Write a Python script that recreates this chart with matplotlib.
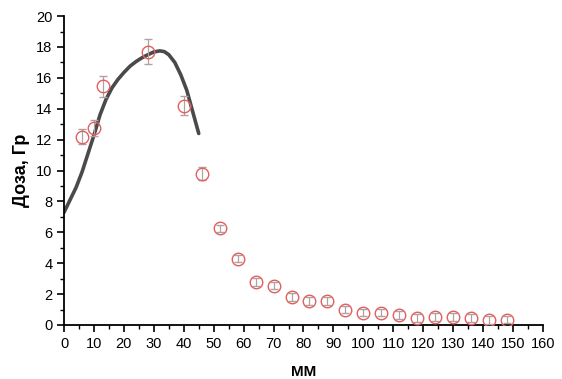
import matplotlib
matplotlib.use("Agg")
import matplotlib.pyplot as plt
from matplotlib.ticker import MultipleLocator

plt.rcParams['font.family'] = ['Liberation Sans', 'DejaVu Sans']

# measured dose points
depth = [6, 10, 13, 28, 40, 46, 52, 58, 64, 70, 76, 82, 88, 94, 100,
         106, 112, 118, 124, 130, 136, 142, 148]
dose = [12.2, 12.75, 15.45, 17.7, 14.2, 9.8, 6.25, 4.3, 2.8, 2.55, 1.8,
        1.55, 1.55, 1.0, 0.8, 0.8, 0.65, 0.45, 0.5, 0.5, 0.45, 0.3, 0.35]
dose_err = [0.5, 0.5, 0.7, 0.8, 0.6, 0.4, 0.25, 0.25, 0.25, 0.25, 0.25,
            0.25, 0.25, 0.25, 0.25, 0.25, 0.25, 0.25, 0.25, 0.25, 0.25, 0.25, 0.25]

# fitted curve
fit_x = [0, 2, 4, 6, 8, 10, 12, 14, 16, 18, 20, 22, 24, 26, 28, 30, 32,
         33.5, 35, 37, 39, 41, 43, 45]
fit_y = [7.3, 8.1, 8.9, 9.9, 11.1, 12.3, 13.6, 14.6, 15.35, 15.9, 16.35,
         16.75, 17.05, 17.3, 17.5, 17.68, 17.75, 17.7, 17.5, 17.0, 16.2,
         15.2, 13.8, 12.4]

fig = plt.figure(figsize=(5.62, 3.79), dpi=100)
ax = fig.add_axes([0.114, 0.1425, 0.852, 0.815])

ax.plot(fit_x, fit_y, color='#4a4a4a', linewidth=2.6, solid_capstyle='round',
        solid_joinstyle='round', zorder=2)
ax.errorbar(depth, dose, yerr=dose_err, fmt='o', markersize=9,
            markerfacecolor='none', markeredgecolor='#e06060', markeredgewidth=1.0,
            ecolor='#b0a0a0', elinewidth=0.9, capsize=3, zorder=3)

ax.set_xlim(0, 160)
ax.set_ylim(0, 20)
ax.xaxis.set_major_locator(MultipleLocator(10))
ax.xaxis.set_minor_locator(MultipleLocator(5))
ax.yaxis.set_major_locator(MultipleLocator(2))
ax.yaxis.set_minor_locator(MultipleLocator(1))
ax.spines['top'].set_visible(False)
ax.spines['right'].set_visible(False)
for s in ('left', 'bottom'):
    ax.spines[s].set_linewidth(1.3)
ax.tick_params(which='major', direction='out', length=5, width=1.2, labelsize=10.5)
ax.tick_params(which='minor', direction='out', length=3, width=1.0)

ax.set_ylabel('Доза, Гр', fontsize=13, fontweight='bold')
ax.set_xlabel('ММ', fontsize=11, fontweight='bold', labelpad=10)

fig.savefig('out.png', dpi=100)
